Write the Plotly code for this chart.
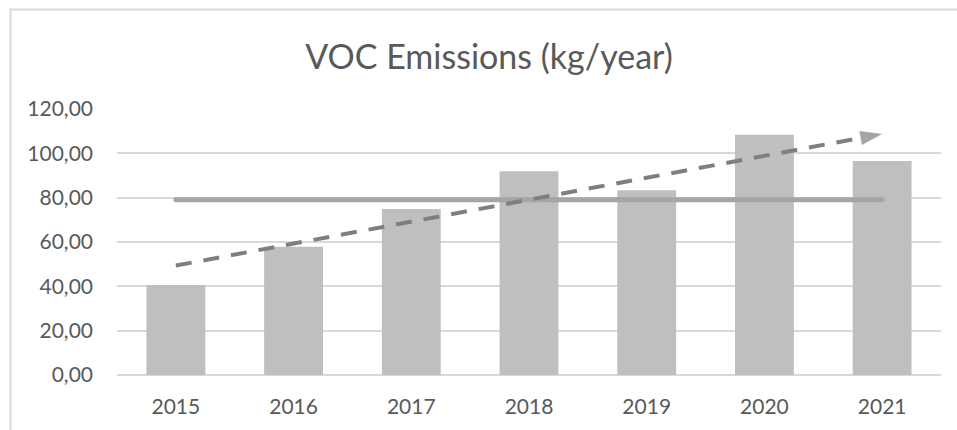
import numpy as np
import plotly.graph_objects as go

# Annual VOC emissions
years = ["2015", "2016", "2017", "2018", "2019", "2020", "2021"]
emissions = [40.6, 57.9, 74.9, 91.9, 83.3, 108.4, 96.5]
y_ticks = [0, 20, 40, 60, 80, 100, 120]

idx = np.arange(len(years))
vals = np.array(emissions)
avg = float(vals.mean())
slope, intercept = np.polyfit(idx, vals, 1)
trend = slope * idx + intercept

W, H = 957, 430
L, R, T, B = 117, 16, 109, 55
pw, ph = W - L - R, H - T - B


def px_x(px):
    return (px - L) / pw


def px_y(py):
    return (H - B - py) / ph


FONT = "Lato"
TXT = "#595959"
GRID = "#d9d9d9"

fig = go.Figure()

fig.add_trace(go.Bar(
    x=idx, y=vals, marker=dict(color="#bfbfbf", line=dict(width=0)),
    width=0.5, hoverinfo="skip",
))

# mean line with rounded ends
fig.add_trace(go.Scatter(
    x=[idx[0], idx[-1]], y=[avg, avg], mode="lines+markers",
    line=dict(color="#a5a5a5", width=5),
    marker=dict(color="#a5a5a5", size=5, line=dict(width=0)),
    hoverinfo="skip",
))

# linear trend, arrowhead at its end
fig.add_trace(go.Scatter(
    x=[idx[0], idx[-1]], y=[trend[0], trend[-1]], mode="lines+markers",
    line=dict(color="#7f7f7f", width=4, dash="16px,12px"),
    marker=dict(symbol="arrow", angleref="previous", size=[0, 23],
                color="#7f7f7f", line=dict(width=0)),
    hoverinfo="skip",
))

# chart frame
fig.add_shape(type="line", xref="paper", yref="paper",
              x0=px_x(9.5), x1=px_x(957), y0=px_y(9.5), y1=px_y(9.5),
              line=dict(color=GRID, width=2))
fig.add_shape(type="line", xref="paper", yref="paper",
              x0=px_x(10.5), x1=px_x(10.5), y0=px_y(9.5), y1=px_y(430),
              line=dict(color=GRID, width=2))

fig.update_layout(
    width=W, height=H,
    margin=dict(l=L, r=R, t=T, b=B),
    paper_bgcolor="white", plot_bgcolor="white",
    showlegend=False,
    separators=", ",
    title=dict(
        text="VOC Emissions (kg/year)",
        font=dict(family=FONT, size=34, color=TXT),
        x=489 / W, xanchor="center", xref="container",
        y=1 - 57 / H, yanchor="middle", yref="container",
    ),
    bargap=0.5,
)

fig.update_xaxes(
    range=[-0.5, len(years) - 0.5],
    tickmode="array", tickvals=idx, ticktext=years,
    showgrid=False, zeroline=False, showline=False,
    ticks="", ticklabelstandoff=17,
    tickfont=dict(family=FONT, size=21, color=TXT),
)
fig.update_yaxes(
    range=[0, 120], tickmode="array", tickvals=y_ticks, tickformat=".2f",
    showgrid=True, gridcolor=GRID, gridwidth=1.5,
    zeroline=True, zerolinecolor=GRID, zerolinewidth=1.5,
    showline=False, ticks="", ticklabelstandoff=23,
    tickfont=dict(family=FONT, size=21, color=TXT),
)

fig.write_html("out.html")
